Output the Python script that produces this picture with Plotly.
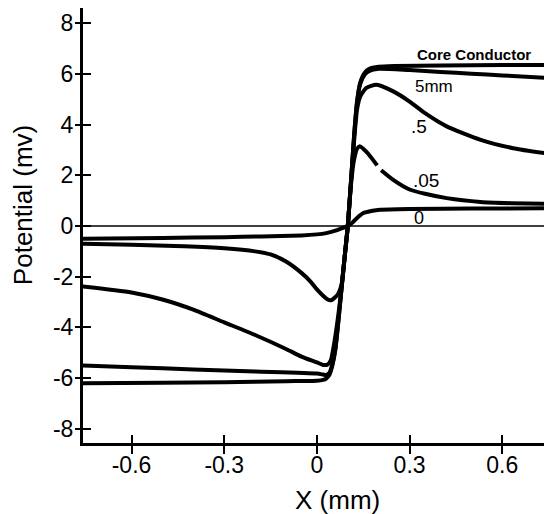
import plotly.graph_objects as go

# ---- data ----
x_core = [-0.76, -0.5, -0.3, -0.1, 0.0, 0.02, 0.03, 0.04, 0.05, 0.06, 0.07, 0.08, 0.09, 0.10,
          0.11, 0.12, 0.13, 0.14, 0.155, 0.17, 0.2, 0.25, 0.4, 0.6, 0.75]
y_core = [-6.2, -6.18, -6.16, -6.12, -6.1, -6.07, -6.02, -5.88, -5.5, -4.85, -3.7, -2.45, -1.2, 0.0,
          1.7, 3.5, 4.9, 5.65, 6.05, 6.2, 6.28, 6.31, 6.33, 6.35, 6.35]

x_5mm = [-0.76, -0.6, -0.4, -0.2, 0.0, 0.02, 0.03, 0.04, 0.05, 0.06, 0.07, 0.08, 0.09, 0.10,
         0.11, 0.12, 0.13, 0.14, 0.155, 0.17, 0.2, 0.3, 0.4, 0.5, 0.6, 0.75]
y_5mm = [-5.5, -5.57, -5.66, -5.74, -5.82, -5.86, -5.88, -5.8, -5.45, -4.82, -3.68, -2.43, -1.2, 0.0,
         1.7, 3.5, 4.9, 5.6, 5.98, 6.12, 6.2, 6.15, 6.08, 6.01, 5.94, 5.84]

x_05 = [-0.76, -0.6, -0.5, -0.4, -0.3, -0.2, -0.1, -0.05, 0.0, 0.02, 0.035, 0.045, 0.055, 0.065,
        0.075, 0.085, 0.095, 0.10, 0.11, 0.12, 0.13, 0.14, 0.16, 0.193, 0.247, 0.3, 0.35, 0.42,
        0.53, 0.635, 0.75]
y_05 = [-2.38, -2.62, -2.9, -3.3, -3.8, -4.3, -4.85, -5.15, -5.38, -5.48, -5.46, -5.3, -4.7, -3.9,
        -2.95, -1.8, -0.6, 0.0, 1.7, 3.3, 4.6, 5.1, 5.45, 5.57, 5.31, 4.91, 4.45, 3.93,
        3.4, 3.07, 2.85]

x_005 = [-0.76, -0.6, -0.43, -0.3, -0.2, -0.15, -0.1, -0.05, -0.02, 0.0, 0.02, 0.035, 0.045,
         0.06, 0.07, 0.08, 0.09, 0.10, 0.11, 0.12, 0.13, 0.139, 0.15, 0.166, 0.195, None,
         0.208, 0.247, 0.3, 0.35, 0.42, 0.53, 0.63, 0.75]
y_005 = [-0.7, -0.74, -0.8, -0.88, -1.0, -1.12, -1.4, -1.85, -2.2, -2.5, -2.75, -2.9, -2.93,
         -2.8, -2.65, -2.3, -1.2, 0.0, 1.6, 2.6, 3.05, 3.15, 3.05, 2.85, 2.39, None,
         2.2, 1.82, 1.44, 1.27, 1.1, 0.95, 0.9, 0.87]

x_0 = [-0.76, -0.5, -0.3, -0.18, -0.05, 0.0, 0.03, 0.06, 0.08, 0.10, 0.117, 0.13, 0.149, 0.18,
       0.204, 0.3, 0.5, 0.75]
y_0 = [-0.5, -0.47, -0.44, -0.41, -0.37, -0.33, -0.28, -0.18, -0.09, 0.0, 0.16, 0.32, 0.5, 0.6,
       0.64, 0.67, 0.69, 0.7]

x_zero = [-0.8, 0.8]
y_zero = [0, 0]

x_ticks = [-0.6, -0.3, 0, 0.3, 0.6]
x_ticktext = ["-0.6", "-0.3", "0", "0.3", "0.6"]
y_ticks = [-8, -6, -4, -2, 0, 2, 4, 6, 8]
y_ticktext = ["-8", "-6", "-4", "-2", "0", "2", "4", "6", "8"]

labels = ["<b>Core Conductor</b>", "5mm", ".5", ".05", "0"]
label_x = [0.508, 0.379, 0.33, 0.353, 0.33]
label_y = [6.78, 5.52, 3.94, 1.81, 0.32]
label_size = [15, 17, 19, 19, 18]

XR = [-0.757, 0.735]
YR = [-8.56, 8.6]
FONT = "Liberation Sans, Arial, sans-serif"

fig = go.Figure()
for xs, ys in [(x_core, y_core), (x_5mm, y_5mm), (x_05, y_05), (x_005, y_005), (x_0, y_0)]:
    fig.add_trace(go.Scatter(x=xs, y=ys, mode="lines",
                             line=dict(color="black", width=4, shape="spline", smoothing=0.6),
                             connectgaps=False, showlegend=False, hoverinfo="skip"))
fig.add_trace(go.Scatter(x=x_zero, y=y_zero, mode="lines", xaxis="x2", yaxis="y2",
                         line=dict(color="black", width=1.6), showlegend=False, hoverinfo="skip"))

for t, xx, yy, s in zip(labels, label_x, label_y, label_size):
    fig.add_annotation(x=xx, y=yy, text=t, showarrow=False,
                       font=dict(family=FONT, size=s, color="black"),
                       xanchor="center", yanchor="middle")

fig.add_annotation(xref="paper", yref="paper", x=0.551, y=-0.131, text="X (mm)",
                   showarrow=False, font=dict(family=FONT, size=26, color="black"),
                   xanchor="center", yanchor="middle")
fig.add_annotation(xref="paper", yref="paper", x=-0.130, y=0.547, text="Potential (mv)",
                   textangle=-90, showarrow=False, font=dict(family=FONT, size=26, color="black"),
                   xanchor="center", yanchor="middle")

fig.update_layout(
    width=544, height=514,
    margin=dict(l=83, r=0, t=8, b=71, autoexpand=False),
    paper_bgcolor="white", plot_bgcolor="white",
    font=dict(family=FONT, color="black"),
    xaxis=dict(range=XR, tickvals=x_ticks, ticktext=x_ticktext, ticks="outside", ticklen=8,
               tickwidth=2, tickcolor="black", showline=True, linewidth=3, linecolor="black",
               showgrid=False, zeroline=False, ticklabelstandoff=-9,
               tickfont=dict(family=FONT, size=23, color="black")),
    yaxis=dict(range=YR, tickvals=y_ticks, ticktext=y_ticktext, ticks="outside", ticklen=5,
               tickwidth=2, tickcolor="black", showline=True, linewidth=3, linecolor="black",
               showgrid=False, zeroline=False, ticklabelstandoff=-3,
               tickfont=dict(family=FONT, size=23, color="black")),
    xaxis2=dict(range=XR, overlaying="x", anchor="y2", tickvals=x_ticks, ticks="inside",
                ticklen=8, tickwidth=2, tickcolor="black", showticklabels=False,
                showline=False, showgrid=False, zeroline=False),
    yaxis2=dict(range=YR, overlaying="y", anchor="x2", tickvals=y_ticks, ticks="inside",
                ticklen=8, tickwidth=2, tickcolor="black", showticklabels=False,
                showline=False, showgrid=False, zeroline=False),
)

# remove the browser's default 8px page margin so the figure fills the window exactly
fig.write_html("out.html",
               config={"displayModeBar": False, "staticPlot": True},
               post_script="document.body.style.margin='0';document.body.style.overflow='hidden';")
